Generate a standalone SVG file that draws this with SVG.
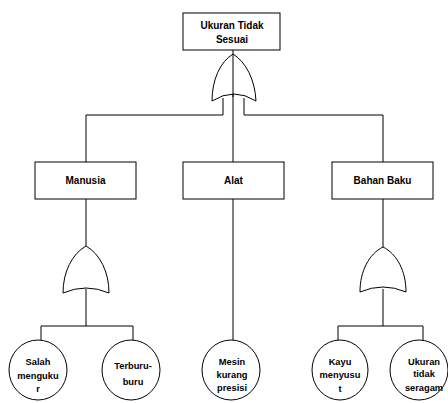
<svg xmlns="http://www.w3.org/2000/svg" width="448" height="403" viewBox="0 0 448 403">
  <style>
    .box { fill: #fff; stroke: #000; stroke-width: 1; }
    .gate { fill: #fff; stroke: #000; stroke-width: 1; }
    .event { fill: #fff; stroke: #000; stroke-width: 1; }
    .wire { fill: none; stroke: #000; stroke-width: 1; }
    .lbl { font-family: "Liberation Sans", Arial, sans-serif; font-weight: bold; font-size: 10px; fill: #000; text-anchor: middle; }
    .sm { font-size: 9.3px; }
  </style>
  <rect width="448" height="403" fill="#fff"/>

  <!-- connectors -->
  <g id="connectors">
    <!-- top event to its OR gate, through the gate to Alat -->
    <path class="wire" d="M233,50 V162"/>
    <path class="wire" d="M223,98 V115 H86 V162"/>
    <path class="wire" d="M244,98 V115 H383 V162"/>
    <!-- Manusia branch -->
    <path class="wire" d="M86,199 V246"/>
    <path class="wire" d="M86,289 V326"/>
    <path class="wire" d="M41,340 V326 H133 V340"/>
    <!-- Alat branch -->
    <path class="wire" d="M233,199 V340"/>
    <!-- Bahan Baku branch -->
    <path class="wire" d="M383,199 V247"/>
    <path class="wire" d="M383,289 V326"/>
    <path class="wire" d="M338,340 V326 H423 V340"/>
  </g>

  <!-- top event -->
  <g id="top-event">
    <rect class="box" x="183" y="13" width="97" height="37"/>
    <text class="lbl" x="232" y="29">Ukuran Tidak</text>
    <text class="lbl" x="232" y="43">Sesuai</text>
  </g>

  <!-- OR gates -->
  <g id="gate-top">
    <path class="gate" d="M212,101 C212,80 220,62 233,54 C246,62 255,80 256,101 Q234,87 212,101 Z"/>
    <path class="wire" d="M233,54 V97"/>
  </g>
  <g id="gate-manusia">
    <path class="gate" d="M63,293 C63,272 72,254 86,246 C100,254 109,272 109,293 Q86,283 63,293 Z"/>
  </g>
  <g id="gate-bahan">
    <path class="gate" d="M360,292 C360,271 369,254 383,247 C397,254 406,271 406,292 Q383,282 360,292 Z"/>
  </g>

  <!-- intermediate events -->
  <g id="manusia">
    <rect class="box" x="35" y="162" width="101" height="37"/>
    <text class="lbl" x="85.5" y="184">Manusia</text>
  </g>
  <g id="alat">
    <rect class="box" x="183" y="162" width="101" height="37"/>
    <text class="lbl" x="233.5" y="184">Alat</text>
  </g>
  <g id="bahan-baku">
    <rect class="box" x="332" y="162" width="101" height="37"/>
    <text class="lbl" x="382.5" y="184">Bahan Baku</text>
  </g>

  <!-- basic events -->
  <g id="salah-mengukur">
    <ellipse class="event" cx="38" cy="370" rx="29" ry="30"/>
    <text class="lbl sm" x="38" y="365">Salah</text>
    <text class="lbl sm" x="38" y="378.5">menguku</text>
    <text class="lbl sm" x="38" y="392">r</text>
  </g>
  <g id="terburu-buru">
    <ellipse class="event" cx="131" cy="370" rx="29" ry="30"/>
    <text class="lbl sm" x="133" y="368.5">Terburu-</text>
    <text class="lbl sm" x="133" y="385">buru</text>
  </g>
  <g id="mesin-kurang-presisi">
    <ellipse class="event" cx="231" cy="370" rx="29" ry="30"/>
    <text class="lbl sm" x="232" y="365">Mesin</text>
    <text class="lbl sm" x="232" y="378">kurang</text>
    <text class="lbl sm" x="232" y="391">presisi</text>
  </g>
  <g id="kayu-menyusut">
    <ellipse class="event" cx="340" cy="370" rx="28" ry="30"/>
    <text class="lbl sm" x="340" y="365">Kayu</text>
    <text class="lbl sm" x="340" y="378">menyusu</text>
    <text class="lbl sm" x="340" y="392">t</text>
  </g>
  <g id="ukuran-tidak-seragam">
    <ellipse class="event" cx="419" cy="370" rx="29" ry="30"/>
    <text class="lbl sm" x="424" y="365">Ukuran</text>
    <text class="lbl sm" x="424" y="377">tidak</text>
    <text class="lbl sm" x="424" y="391">seragam</text>
  </g>
</svg>
